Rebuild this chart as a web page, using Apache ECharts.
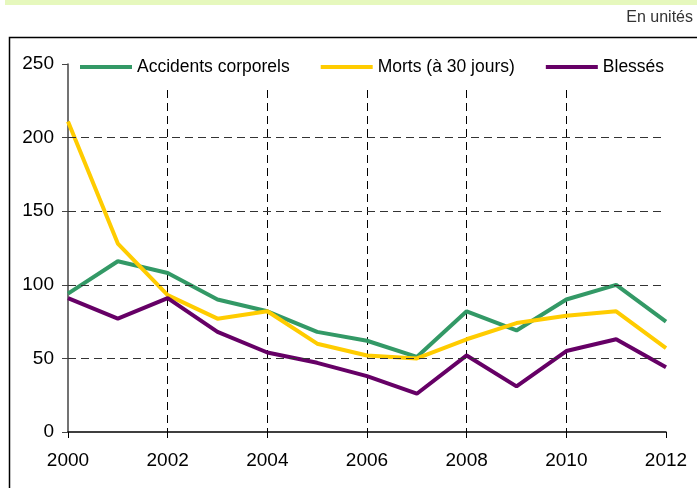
<!DOCTYPE html>
<html><head><meta charset="utf-8">
<script src="https://cdn.jsdelivr.net/npm/echarts@6/dist/echarts.min.js"></script>
<style>html,body{margin:0;padding:0;background:#fff}#c{width:697px;height:488px}</style>
</head><body><div id="c"></div>
<script>
const years = ['2000','2001','2002','2003','2004','2005','2006','2007','2008','2009','2010','2011','2012'];
const accidents = [94,116,108,90,82,68,62,51,82,69,90,100,75];
const morts = [211,128,93,77,82,60,52,50,63,74,79,82,57];
const blesses = [91,77,91,68,54,47,38,26,52,31,55,63,44];
const yTicks = [50,100,150,200];
const seriesNames = ['Accidents corporels','Morts (à 30 jours)','Blessés'];
const colors = ['#339966','#FFCC00','#660066'];

const chart = echarts.init(document.getElementById('c'));
const font = 'Liberation Sans, Arial, sans-serif';
const mk = (name, data, color) => ({
  name, type:'line', data, symbol:'none', z:3,
  lineStyle:{width:4, color}, itemStyle:{color}
});
chart.setOption({
  animation:false,
  graphic:[
    {type:'rect', shape:{x:5,y:0,width:700,height:5}, style:{fill:'#e6f8bd'}, z:-1},
    {type:'rect', shape:{x:9.5,y:37.5,width:700,height:500}, style:{fill:'none', stroke:'#000', lineWidth:1.5}, z:-1},
    {type:'text', right:4, top:10, style:{text:'En unités', font:'16px '+font, fill:'#333'}}
  ],
  grid:{left:68, right:31, top:64, bottom:56},
  legend:{
    left:75, top:50, padding:[8,8,13,5], backgroundColor:'#fff', z:5,
    itemWidth:52, itemHeight:4, itemGap:31, icon:'rect',
    textStyle:{fontFamily:font, fontSize:17.5, color:'#000'},
    data:seriesNames
  },
  xAxis:{
    type:'category', data:years, boundaryGap:false,
    axisLine:{lineStyle:{color:'#000', width:1.5}},
    axisTick:{show:true, length:6, interval:(i)=>i%2===0, lineStyle:{color:'#000'}},
    axisLabel:{interval:(i)=>i%2===0, margin:19, fontFamily:font, fontSize:19, color:'#000'},
    splitLine:{show:true, interval:(i)=>i%2===0 && i>0 && i<12, lineStyle:{color:'#000', type:[8,5], width:1}}
  },
  yAxis:{
    type:'value', min:0, max:250, interval:50,
    axisLine:{show:true, lineStyle:{color:'#444', width:1.5}},
    axisTick:{show:true, length:6, lineStyle:{color:'#444'}},
    axisLabel:{margin:14, fontFamily:font, fontSize:19, color:'#000'},
    splitLine:{show:false}
  },
  series:[
    {type:'line', data:[], z:1, silent:true, markLine:{
      silent:true, symbol:'none', label:{show:false},
      lineStyle:{color:'#333', type:[8,5], width:1},
      data: yTicks.map(v=>({yAxis:v}))
    }},
    mk(seriesNames[0], accidents, colors[0]),
    mk(seriesNames[1], morts, colors[1]),
    mk(seriesNames[2], blesses, colors[2])
  ]
});
</script></body></html>
